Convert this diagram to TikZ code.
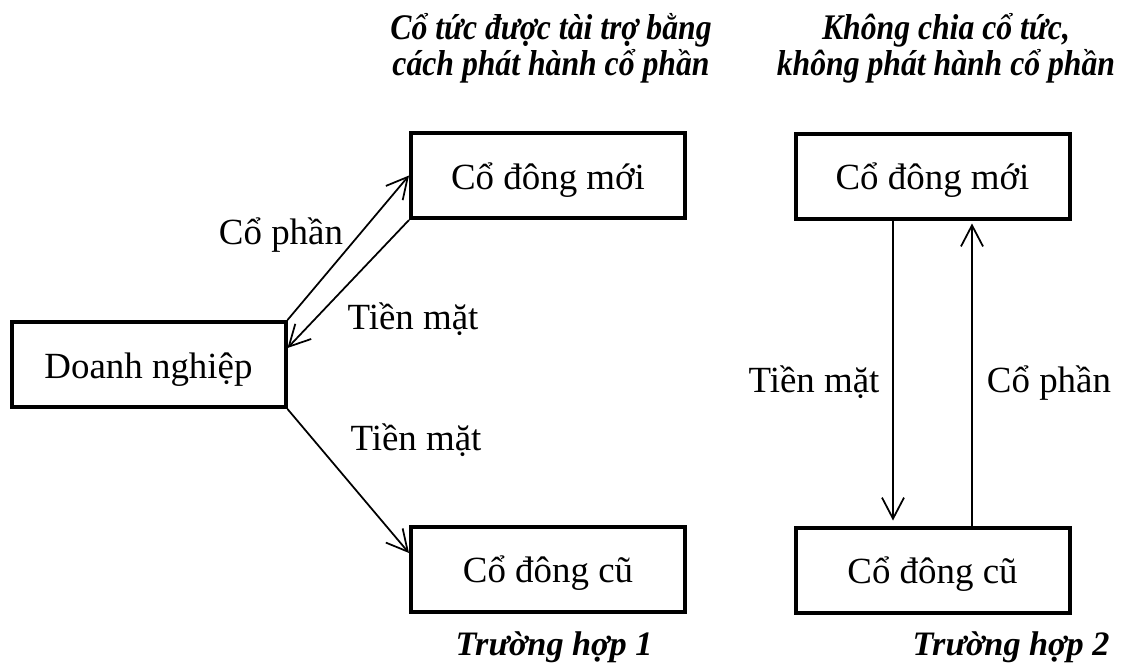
\documentclass[tikz,border=0pt]{standalone}
\usepackage{fontspec}
\setmainfont{Liberation Serif}
\newfontfamily\headfont[FakeStretch=0.88]{Liberation Serif}
\usetikzlibrary{arrows.meta}

\tikzset{
  box/.style={draw, line width=0.08cm, minimum width=5.48cm, minimum height=1.7cm,
    inner sep=0pt, text height=0.7cm, text depth=0.16cm, font=\fontsize{21}{25}\selectfont},
  lbl/.style={anchor=base, inner sep=0pt, font=\fontsize{21}{25}\selectfont},
  ttl/.style={anchor=base, inner sep=0pt, align=center,
    font=\headfont\fontsize{20.5}{18.8}\selectfont\bfseries\itshape},
  case/.style={anchor=base, inner sep=0pt,
    font=\fontsize{19.5}{18.8}\selectfont\bfseries\itshape},
  flow/.style={-{Straight Barb[length=0.42cm, width=0.44cm]}, line width=0.035cm},
}

\begin{document}
\begin{tikzpicture}
  \useasboundingbox (0,0) rectangle (22.42,-13.24);
  % boxes
  \node[box] (firm) at (2.97,-7.29) {Doanh nghiệp};
  \node[box] (newA) at (10.96,-3.51) {Cổ đông mới};
  \node[box] (oldA) at (10.96,-11.38) {Cổ đông cũ};
  \node[box] (newB) at (18.65,-3.52) {Cổ đông mới};
  \node[box] (oldB) at (18.65,-11.40) {Cổ đông cũ};
  % headings
  \node[ttl] (headA) at (11.02,-1.50) {Cổ tức được tài trợ bằng\\cách phát hành cổ phần};
  \node[ttl] (headB) at (18.92,-1.50) {Không chia cổ tức,\\không phát hành cổ phần};
  \node[case] (caseA) at (11.08,-13.10) {Trường hợp 1};
  \node[case] (caseB) at (20.22,-13.10) {Trường hợp 2};
  % flow labels
  \node[lbl] (sharesA) at (5.62,-4.88) {Cổ phần};
  \node[lbl] (cashA) at (8.26,-6.58) {Tiền mặt};
  \node[lbl] (cashOld) at (8.32,-9.00) {Tiền mặt};
  \node[lbl] (cashB) at (16.28,-7.84) {Tiền mặt};
  \node[lbl] (sharesB) at (20.98,-7.84) {Cổ phần};
  % flows
  \draw[flow] (firm.north east) -- (newA.west);
  \draw[flow] (newA.south west) -- ([yshift=0.33cm]firm.east);
  \draw[flow] (firm.south east) -- ([yshift=0.32cm]oldA.west);
  \draw[flow] ([xshift=-0.79cm]newB.south) -- ([xshift=-0.79cm,yshift=0.1cm]oldB.north);
  \draw[flow] ([xshift=0.79cm]oldB.north) -- ([xshift=0.79cm,yshift=-0.06cm]newB.south);
\end{tikzpicture}
\end{document}
